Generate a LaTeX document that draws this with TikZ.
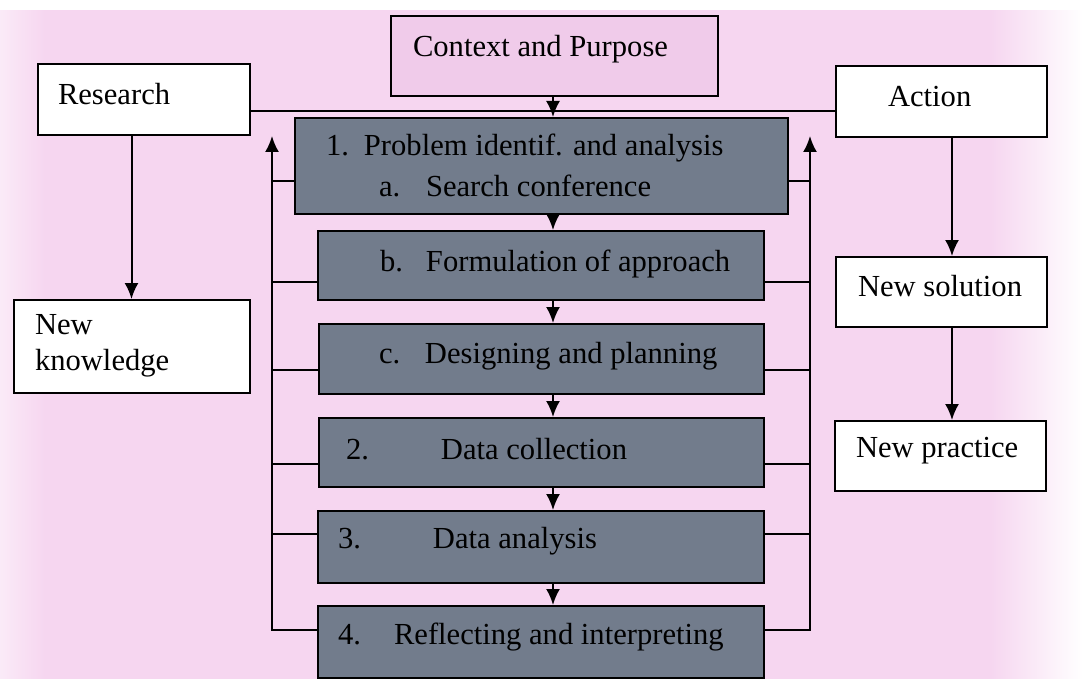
\documentclass[tikz,border=0pt]{standalone}
\usepackage{fontspec}
\setmainfont{Liberation Serif}
\usetikzlibrary{arrows.meta}
\definecolor{bgpink}{RGB}{246,214,240}
\definecolor{ctxpink}{RGB}{240,203,234}
\definecolor{slate}{RGB}{114,124,140}
\begin{document}
\begin{tikzpicture}[x=1pt,y=-1pt,line width=2pt,
  font=\fontsize{30.6}{36}\selectfont,
  whitebox/.style={draw=black,fill=white,inner sep=0pt,anchor=north west},
  ctxbox/.style={draw=black,fill=ctxpink,inner sep=0pt,anchor=north west},
  darkbox/.style={draw=black,fill=slate,inner sep=0pt,anchor=north west},
  txt/.style={anchor=west,inner sep=0pt,align=left},
  arr/.style={-{Latex[length=16pt,width=14pt]}}]
% background
\useasboundingbox (0,0) rectangle (1083,679);
\fill[bgpink] (0,0) rectangle (1083,679);
\shade[left color=bgpink,right color=white] (990,0) rectangle (1083,679);
\shade[left color=white!50!bgpink,right color=bgpink] (0,0) rectangle (45,679);
\fill[white] (0,0) rectangle (1083,10);
% coordinates
\coordinate (hy) at (0,111);
\coordinate (ax) at (553,0);
\coordinate (rx) at (131.5,0);
\coordinate (sx) at (952,0);
\coordinate (ltop) at (272,136);
\coordinate (rtop) at (810,136);
\coordinate (y1) at (0,181);
\coordinate (y2) at (0,282);
\coordinate (y3) at (0,370);
\coordinate (y4) at (0,464);
\coordinate (y5) at (0,534);
\coordinate (y6) at (0,630);
% boxes
\node[ctxbox,minimum width=327pt,minimum height=80pt] (ctx) at (390,15) {};
\node[whitebox,minimum width=212pt,minimum height=71pt] (research) at (37,63) {};
\node[whitebox,minimum width=211pt,minimum height=71pt] (action) at (835,65) {};
\node[whitebox,minimum width=236pt,minimum height=93pt] (know) at (13,299) {};
\node[whitebox,minimum width=211pt,minimum height=70pt] (sol) at (835,256) {};
\node[whitebox,minimum width=211pt,minimum height=70pt] (prac) at (834,420) {};
\node[darkbox,minimum width=493pt,minimum height=96pt] (b1) at (294,117) {};
\node[darkbox,minimum width=446pt,minimum height=69pt] (bb) at (317,230) {};
\node[darkbox,minimum width=445pt,minimum height=70pt] (bc) at (318,323) {};
\node[darkbox,minimum width=445pt,minimum height=69pt] (b2) at (318,417) {};
\node[darkbox,minimum width=446pt,minimum height=72pt] (b3) at (317,510) {};
\node[darkbox,minimum width=446pt,minimum height=72pt] (b4) at (317,605) {};
% texts
\node[txt] (tctx) at (412,49) {Context and Purpose};
\node[txt] (tres) at (57,94) {Research};
\node[txt] (tact) at (887,97) {Action};
\node[txt] (tsol) at (857,286) {New solution};
\node[txt] (tprac) at (855,451) {New practice};
\node[txt] (tknow) at (34,346) {New\\knowledge};
\node[txt] (t1) at (325,148) {\makebox[38pt][l]{1.}Problem identif. and analysis};
\node[txt] (t1a) at (378,186) {\makebox[47pt][l]{a.}Search conference};
\node[txt] (tb) at (379,264) {\makebox[46pt][l]{b.}Formulation of approach};
\node[txt] (tc) at (378,356) {\makebox[46pt][l]{c.}Designing and planning};
\node[txt] (t2) at (345,449) {\makebox[95pt][l]{2.}Data collection};
\node[txt] (t3) at (337,541) {\makebox[95pt][l]{3.}Data analysis};
\node[txt] (t4) at (337,637) {\makebox[56pt][l]{4.}Reflecting and interpreting};
% top horizontal line
\draw (research.east |- hy) -- (action.west |- hy);
% main flow arrows
\draw[arr] (ctx.south -| ax) -- (b1.north -| ax);
\draw[arr] (b1.south -| ax) -- (bb.north -| ax);
\draw[arr] (bb.south -| ax) -- (bc.north -| ax);
\draw[arr] (bc.south -| ax) -- (b2.north -| ax);
\draw[arr] (b2.south -| ax) -- (b3.north -| ax);
\draw[arr] (b3.south -| ax) -- (b4.north -| ax);
% side arrows
\draw[arr] (research.south -| rx) -- (know.north -| rx);
\draw[arr] (action.south -| sx) -- (sol.north -| sx);
\draw[arr] (sol.south -| sx) -- (prac.north -| sx);
% left feedback
\draw[arr] (b4.west |- y6) -| (ltop);
\draw (b1.west |- y1) -- (ltop |- y1);
\draw (bb.west |- y2) -- (ltop |- y2);
\draw (bc.west |- y3) -- (ltop |- y3);
\draw (b2.west |- y4) -- (ltop |- y4);
\draw (b3.west |- y5) -- (ltop |- y5);
% right feedback
\draw[arr] (b4.east |- y6) -| (rtop);
\draw (b1.east |- y1) -- (rtop |- y1);
\draw (bb.east |- y2) -- (rtop |- y2);
\draw (bc.east |- y3) -- (rtop |- y3);
\draw (b2.east |- y4) -- (rtop |- y4);
\draw (b3.east |- y5) -- (rtop |- y5);
\end{tikzpicture}
\end{document}
